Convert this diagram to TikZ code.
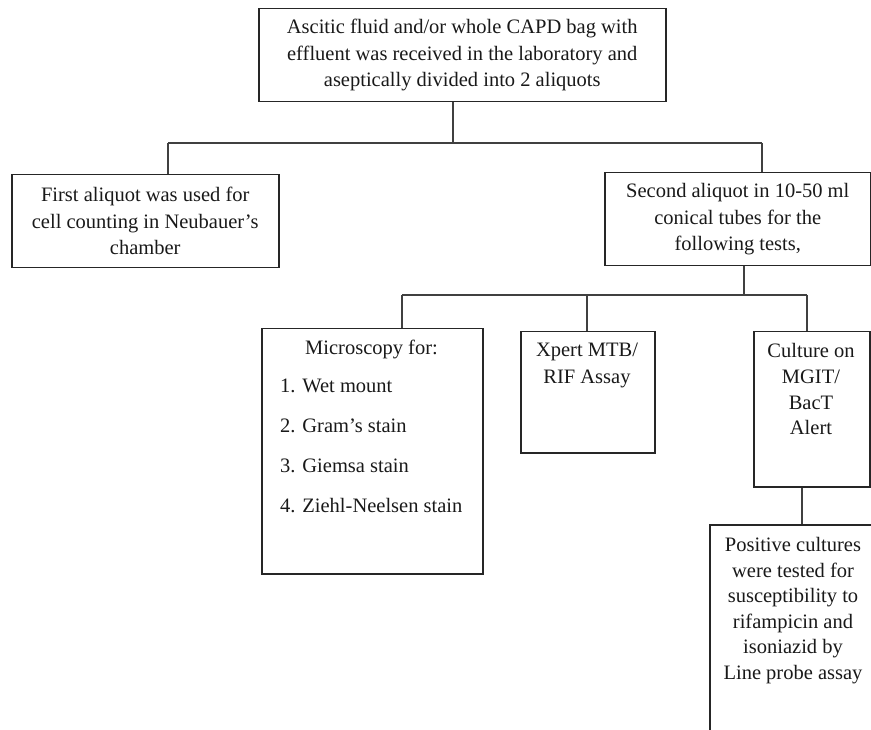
\documentclass[tikz,border=0pt]{standalone}
\usepackage{fontspec}
\setmainfont{Liberation Serif}
\begin{document}
\begin{tikzpicture}[x=1pt,y=-1pt,
  box/.style={draw=black!85, line width=1.5pt, rectangle, anchor=north west, inner sep=0pt},
  conn/.style={draw=black!75, line width=1.1pt},
  txt/.style={font=\fontsize{20.5}{26.5}\selectfont, align=center, inner sep=0pt, text=black!90}]
\useasboundingbox (0,0) rectangle (871,730);
\clip (0,0) rectangle (871,730);
% boxes
\node[box, txt, minimum width=407pt, minimum height=93pt] (top) at (258,8)
  {Ascitic fluid and/or whole CAPD bag with\\effluent was received in the laboratory and\\aseptically divided into 2 aliquots};
\node[box, txt, minimum width=267pt, minimum height=93pt] (first) at (11,174)
  {First aliquot was used for\\cell counting in Neubauer’s\\chamber};
\node[box, txt, minimum width=266pt, minimum height=93pt] (second) at (604,172)
  {Second aliquot in 10-50 ml\\conical tubes for the\\following tests,};
\node[box, minimum width=221pt, minimum height=245pt] (micro) at (261,328) {};
\node[box, minimum width=134pt, minimum height=121pt] (xpert) at (520,331) {};
\node[box, minimum width=116pt, minimum height=155pt] (culture) at (753,331) {};
\node[box, minimum width=170pt, minimum height=250pt] (positive) at (709,524) {};
% texts in top-aligned boxes
\node[txt, anchor=north] (microT) at (371.5,340) {Microscopy for:};
\node[txt, anchor=north west, align=left, font=\fontsize{20.5}{40}\selectfont] (microL) at (280,379)
  {1. Wet mount\\2. Gram’s stain\\3. Giemsa stain\\4. Ziehl-Neelsen stain};
\node[txt, anchor=north] (xpertT) at (587,343) {Xpert MTB/\\RIF Assay};
\node[txt, anchor=north, font=\fontsize{20.5}{25.8}\selectfont] (cultureT) at (811,343) {Culture on\\MGIT/\\BacT\\Alert};
\node[txt, anchor=north, font=\fontsize{20.5}{25.6}\selectfont] (positiveT) at (793,537)
  {Positive cultures\\were tested for\\susceptibility to\\rifampicin and\\isoniazid by\\Line probe assay};
% junction coordinates
\coordinate (j0) at (453,143);
\coordinate (jl) at (168,143);
\coordinate (jr) at (762,143);
\coordinate (k0) at (744,295);
\coordinate (km) at (402,295);
\coordinate (kx) at (587,295);
\coordinate (kc) at (807,295);
\coordinate (cp) at (802,486);
% connectors
\draw[conn] (top.south -| j0) -- (j0);
\draw[conn] (jl) -- (jr);
\draw[conn] (jl) -- (jl |- first.north);
\draw[conn] (jr) -- (jr |- second.north);
\draw[conn] (second.south -| k0) -- (k0);
\draw[conn] (km) -- (kc);
\draw[conn] (km) -- (km |- micro.north);
\draw[conn] (kx) -- (kx |- xpert.north);
\draw[conn] (kc) -- (kc |- culture.north);
\draw[conn] (culture.south -| cp) -- (cp |- positive.north);
\end{tikzpicture}
\end{document}
